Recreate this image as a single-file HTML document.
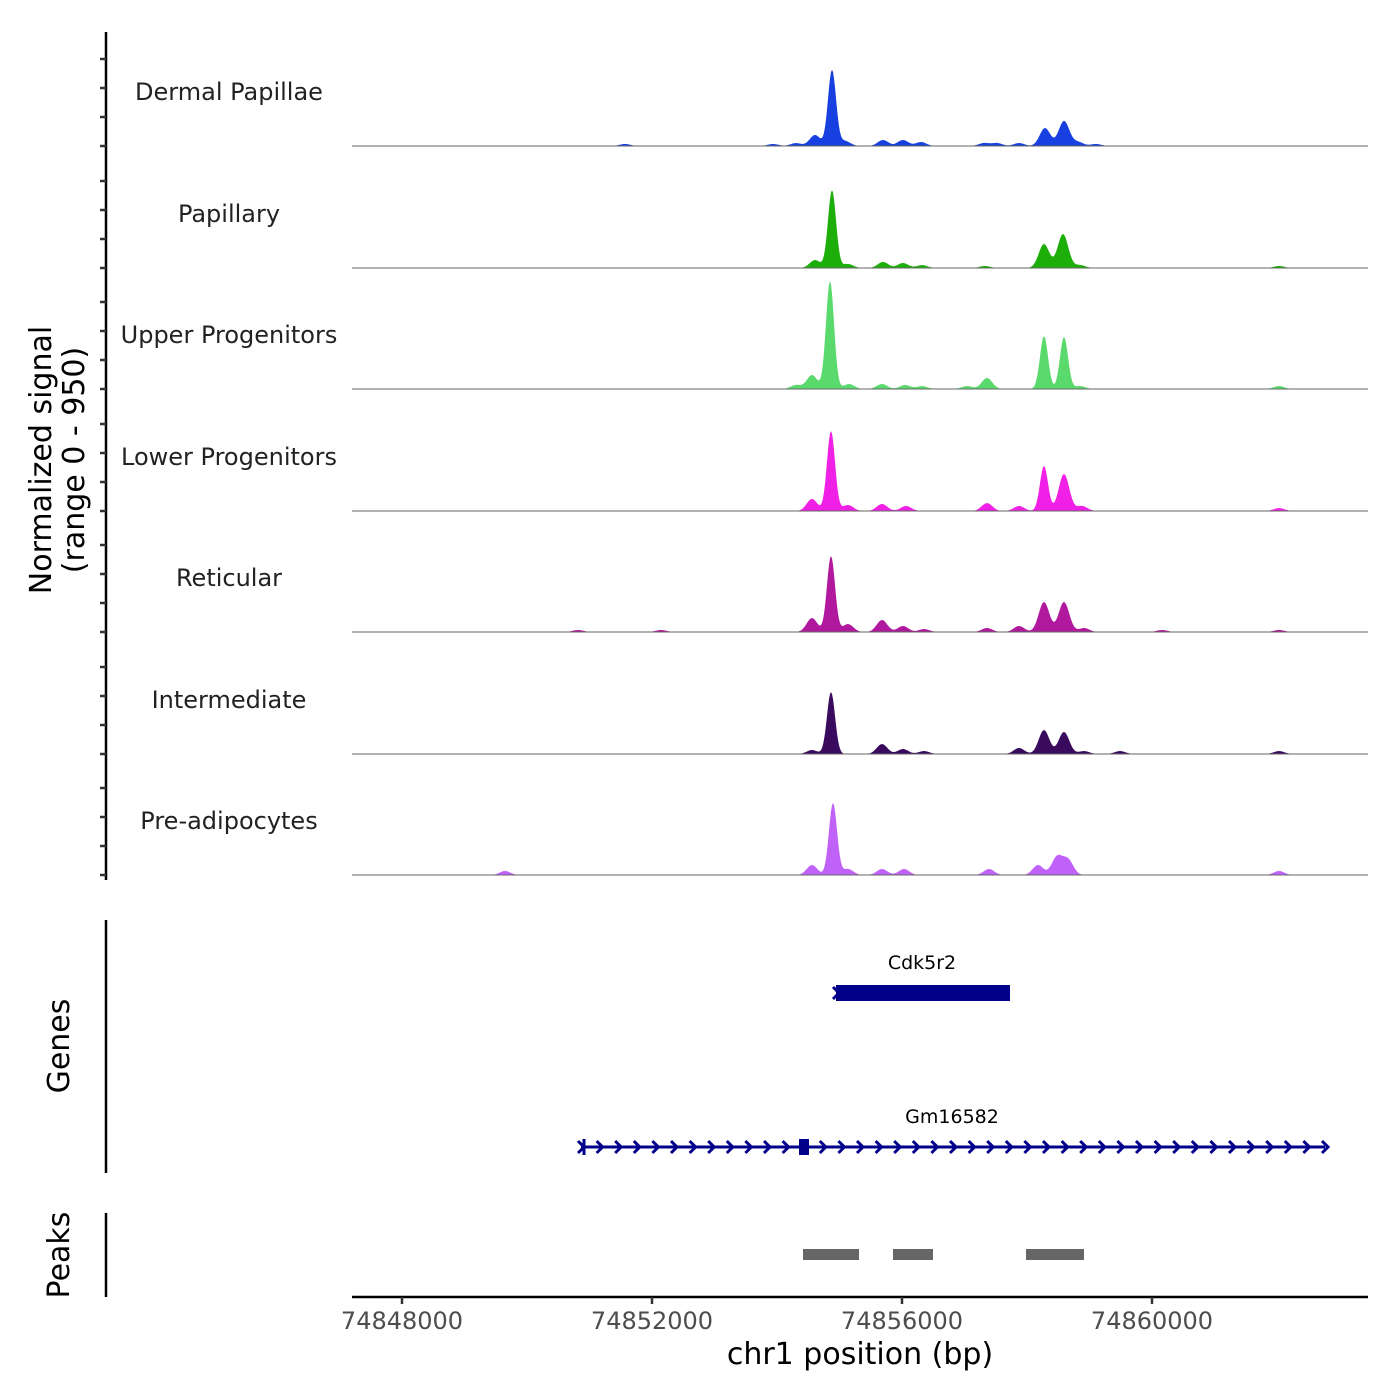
<!DOCTYPE html>
<html><head><meta charset="utf-8"><style>
html,body{margin:0;padding:0;background:#fff}
svg{display:block;font-family:"DejaVu Sans","Liberation Sans",sans-serif}
</style></head><body>
<svg id="chart" width="1400" height="1400" viewBox="0 0 1400 1400"></svg>
<script>
const trackNames = ["Dermal Papillae","Papillary","Upper Progenitors","Lower Progenitors","Reticular","Intermediate","Pre-adipocytes"];
const trackColors = ["#1840e0","#1eae0a","#5ad96c","#f020e6","#b0189e","#3a0a5e","#c062f8"];
const peaksDermal = [[74854880,593],[74854608,86],[74855088,39],[74855696,47],[74856016,47],[74856304,31],[74857312,23],[74857520,23],[74857872,23],[74858288,140],[74858592,195],[74858816,31],[74859104,16],[74851568,16],[74853936,16],[74854304,23]];
const peaksPapillary = [[74854880,608],[74854608,62],[74855136,31],[74855696,47],[74856016,39],[74856320,23],[74857328,16],[74858272,187],[74858576,265],[74858848,23],[74862032,16]];
const peaksUpper = [[74854848,842],[74854560,109],[74855152,39],[74855680,39],[74856048,31],[74856320,23],[74857040,23],[74857360,86],[74858272,413],[74858592,406],[74858848,23],[74862032,23],[74854304,31]];
const peaksLower = [[74854864,624],[74854560,94],[74855136,47],[74855680,55],[74856064,39],[74857360,62],[74857872,39],[74858272,351],[74858592,289],[74858880,39],[74862032,23]];
const peaksReticular = [[74854864,593],[74854560,109],[74855136,62],[74855680,94],[74856016,47],[74856352,23],[74857360,31],[74857872,47],[74858272,234],[74858592,234],[74858912,31],[74860160,16],[74852144,16],[74850816,16],[74862032,16]];
const peaksIntermediate = [[74854864,484],[74854560,31],[74855680,78],[74856016,39],[74856352,23],[74857872,47],[74858272,187],[74858592,172],[74858912,23],[74859488,23],[74862032,23]];
const peaksPre = [[74854896,562],[74854560,78],[74855136,47],[74855680,47],[74856032,47],[74857392,47],[74858176,78],[74858480,140],[74858656,117],[74849648,31],[74862032,31]];
const trackPeaks = [peaksDermal,peaksPapillary,peaksUpper,peaksLower,peaksReticular,peaksIntermediate,peaksPre];
const xTicks = [74848000,74852000,74856000,74860000];
const genes = [{name:"Cdk5r2",start:74854944,end:74857728,exonStart:74854944,exonEnd:74857728},{name:"Gm16582",start:74850864,end:74862768,exonStart:74854352,exonEnd:74854512}];
const peakRegions = [[74854416,74855312],[74855856,74856496],[74857984,74858912]];
const yMax = 950;

const NS="http://www.w3.org/2000/svg";
const svg=document.getElementById('chart');
function X(bp){return 402+(bp-74848000)*0.0625;}
function H(v){return v/yMax*121.5;}
function el(tag,attrs,parent){const e=document.createElementNS(NS,tag);for(const k in attrs)e.setAttribute(k,attrs[k]);(parent||svg).appendChild(e);return e;}
function txt(s,attrs){const t=el('text',attrs);t.textContent=s;return t;}

let a=el('line',{x1:106,y1:32,x2:106,y2:880,stroke:'#000','stroke-width':2.5});


const baselines=[146,268,389,511,632,754,875];
const sigma=85;
trackNames.forEach((name,i)=>{
  const b=baselines[i];
  [0,29,58,87].forEach(o=>{const t=el('line',{x1:100,x2:106,y1:b-o,y2:b-o,stroke:'#333','stroke-width':2.5});
    
    });
  const g=el('g',{});
  
  
  let d='M352,'+b;
  for(let px=352;px<=1368;px+=1){
    const bp=74848000+(px-402)*16;
    let v=0;
    trackPeaks[i].forEach(([p,val])=>{const s=val>300?65:sigma;const z=(bp-p)/s;v+=val*Math.exp(-0.5*z*z);});
    d+=' L'+px+','+(b-H(Math.min(v,yMax))).toFixed(2);
  }
  d+=' L1368,'+b+' Z';
  el('path',{d:d,fill:trackColors[i],stroke:'none'},g);
  el('line',{x1:352,x2:1368,y1:b,y2:b,stroke:'#666','stroke-width':1},g);
  const l=txt(name,{x:229,y:b-46,'text-anchor':'middle','font-size':24,fill:'#222'});
  
  
});
let yt=el('text',{transform:'translate(51,460) rotate(-90)','text-anchor':'middle','font-size':30,fill:'#000'});


yt.innerHTML='<tspan x="0" dy="0">Normalized signal</tspan><tspan x="0" dy="33">(range 0 - 950)</tspan>';

let ga=el('line',{x1:106,y1:920,x2:106,y2:1173,stroke:'#000','stroke-width':2.5});


let gt=txt('Genes',{transform:'translate(69,1046) rotate(-90)','text-anchor':'middle','font-size':30});


const geneY=[993,1147];
genes.forEach((gn,i)=>{
  const g=el('g',{});
  
  
  const y=geneY[i],x1=X(gn.start),x2=X(gn.end);
  el('line',{x1:x1,x2:x2,y1:y,y2:y,stroke:'#00008b','stroke-width':3},g);
  for(let ax=x1;ax<=x2;ax+=18.6){el('path',{d:`M${ax-3},${y-6} L${ax+3},${y} L${ax-3},${y+6}`,fill:'none',stroke:'#00008b','stroke-width':3},g);}
  if(i===1) el('line',{x1:x1+3,x2:x1+3,y1:y-8,y2:y+8,stroke:'#00008b','stroke-width':3},g);
  el('rect',{x:X(gn.exonStart),y:y-8,width:X(gn.exonEnd)-X(gn.exonStart),height:16,fill:'#00008b'},g);
  const t=el('text',{x:(i===0?922:952),y:y-24,'text-anchor':'middle','font-size':19,fill:'#000'},g);
  t.textContent=gn.name;
});

let pa=el('line',{x1:106,y1:1213,x2:106,y2:1297,stroke:'#000','stroke-width':2.5});


let pt=txt('Peaks',{transform:'translate(69,1255) rotate(-90)','text-anchor':'middle','font-size':30});


peakRegions.forEach(([s,e])=>{const r=el('rect',{x:X(s),y:1249,width:X(e)-X(s),height:11,fill:'#666'});
  
  });

let xa=el('line',{x1:352,y1:1297,x2:1368,y2:1297,stroke:'#000','stroke-width':2.5});


xTicks.forEach(v=>{
  const tk=el('line',{x1:X(v),x2:X(v),y1:1297,y2:1304,stroke:'#333','stroke-width':2.5});
  
  
  const t=txt(String(v),{x:X(v),y:1329,'text-anchor':'middle','font-size':24,fill:'#4d4d4d'});
  
  
});
let xt=txt('chr1 position (bp)',{x:860,y:1364,'text-anchor':'middle','font-size':30});


</script>
</body></html>
